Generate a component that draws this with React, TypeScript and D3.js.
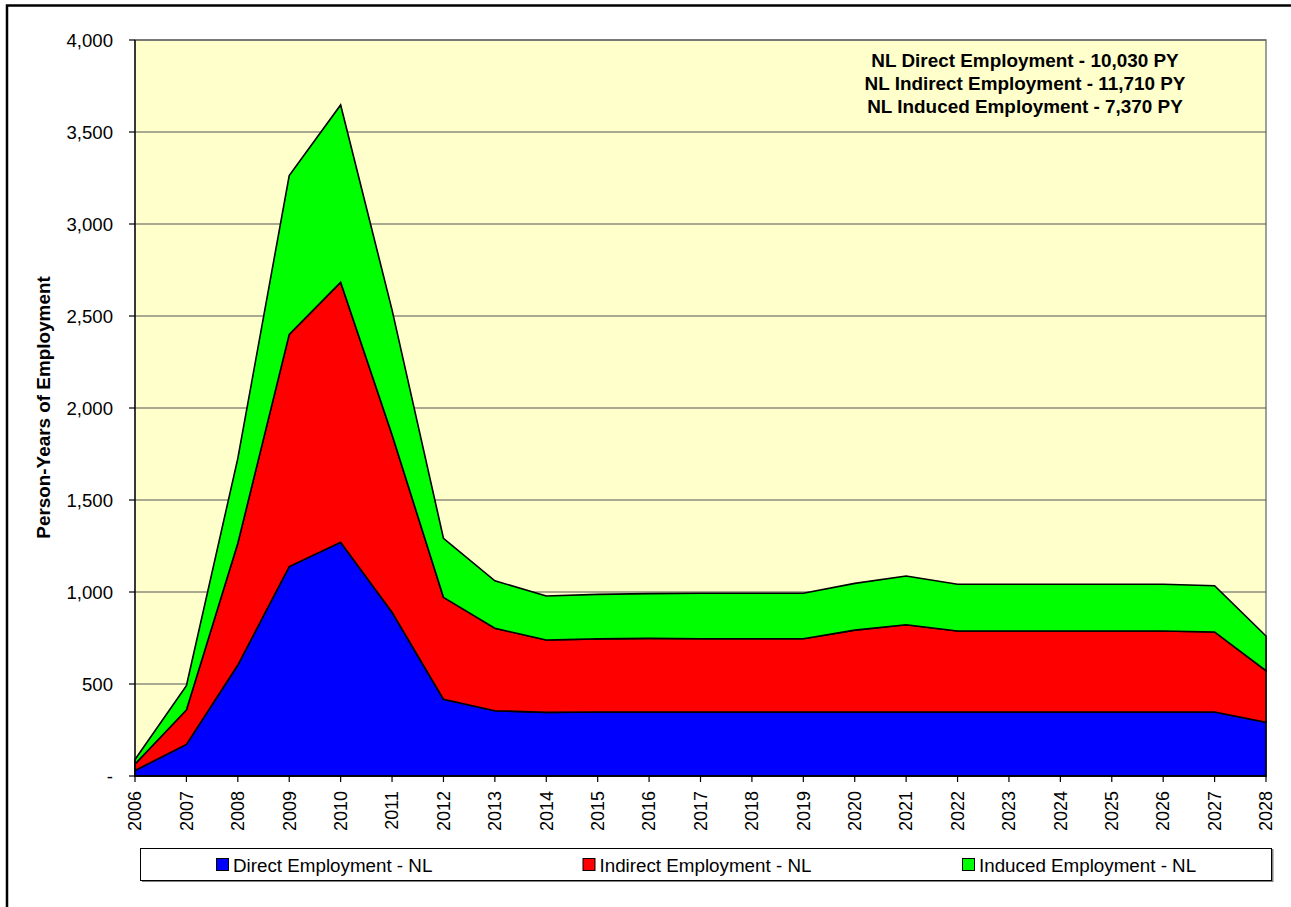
import React from "react";
import * as d3 from "d3";

const years = [
  "2006","2007","2008","2009","2010","2011","2012","2013","2014","2015","2016",
  "2017","2018","2019","2020","2021","2022","2023","2024","2025","2026","2027","2028",
];
const direct = [30,172,603,1138,1270,890,417,355,346,348,348,348,348,348,348,348,348,348,348,348,348,348,292];
const indirect = [35,187,662,1262,1413,965,554,448,393,397,400,398,398,398,445,474,440,440,440,440,440,435,280];
const induced = [25,132,461,863,964,678,321,258,239,242,243,247,247,247,254,265,254,254,254,254,254,251,189];

const seriesKeys = ["direct", "indirect", "induced"];
const seriesLabels = ["Direct Employment - NL", "Indirect Employment - NL", "Induced Employment - NL"];
const seriesColors = ["#0000FF", "#FF0000", "#00FF00"];
const yTicks = [0, 500, 1000, 1500, 2000, 2500, 3000, 3500, 4000];
const notes = [
  "NL Direct Employment - 10,030 PY",
  "NL Indirect Employment - 11,710 PY",
  "NL Induced Employment - 7,370 PY",
];
const yTitle = "Person-Years of Employment";

const W = 1291;
const H = 907;
const L = 135, R = 1266, T = 40, B = 776;
const FONT = "'Liberation Sans', Arial, Helvetica, sans-serif";

export default function App() {
  const rows = years.map((y, i) => ({ year: y, direct: direct[i], indirect: indirect[i], induced: induced[i] }));
  const x = d3.scalePoint<string>().domain(years).range([L, R]);
  const y = d3.scaleLinear().domain([0, 4000]).range([B, T]);
  const stack = d3.stack<any>().keys(seriesKeys);
  const layers = stack(rows);
  const area = d3
    .area<any>()
    .x((d) => x(d.data.year) as number)
    .y0((d) => y(d[0]))
    .y1((d) => y(d[1]));

  const fmt = (v: number) => (v === 0 ? "-" : d3.format(",")(v));
  const legendX = [216.5, 583, 962.5];

  return (
    <svg width={W} height={H} style={{ position: "absolute", left: 0, top: 0, display: "block" }}>
      <rect x={0} y={0} width={W} height={H} fill="#fff" />
      {/* outer chart border */}
      <path d={`M7,${H} V5.5 H${W}`} fill="none" stroke="#000" strokeWidth={2.5} />
      {/* plot area */}
      <rect x={L} y={T} width={R - L} height={B - T} fill="#FFFFCC" stroke="#808080" strokeWidth={1.5} />
      {yTicks.filter((t) => t > 0).map((t) => (
        <line key={t} x1={L} x2={R} y1={y(t)} y2={y(t)} stroke="#555" strokeWidth={1.2} />
      ))}
      {layers.map((layer, i) => (
        <path key={seriesKeys[i]} d={area(layer) as string} fill={seriesColors[i]} stroke="#000" strokeWidth={1.6} strokeLinejoin="miter" />
      ))}
      {/* axes */}
      <line x1={L} x2={L} y1={T} y2={B} stroke="#000" strokeWidth={1.3} />
      <line x1={L} x2={R} y1={B} y2={B} stroke="#000" strokeWidth={1.3} />
      {yTicks.map((t) => (
        <g key={t}>
          <line x1={L - 6} x2={L} y1={y(t)} y2={y(t)} stroke="#000" strokeWidth={1.2} />
          <text x={113} y={y(t)} dy="0.35em" textAnchor="end" fontFamily={FONT} fontSize={18.6} fill="#000">
            {fmt(t)}
          </text>
        </g>
      ))}
      {years.map((yr) => (
        <g key={yr}>
          <line x1={x(yr)} x2={x(yr)} y1={B} y2={B + 6} stroke="#000" strokeWidth={1.2} />
          <text
            transform={`translate(${x(yr)},${791}) rotate(-90)`}
            dy="0.35em"
            textAnchor="end"
            fontFamily={FONT}
            fontSize={18}
            fill="#000"
          >
            {yr}
          </text>
        </g>
      ))}
      <text
        transform={`translate(43,407.5) rotate(-90)`}
        dy="0.35em"
        textAnchor="middle"
        fontFamily={FONT}
        fontWeight="bold"
        fontSize={18.9}
        fill="#000"
      >
        {yTitle}
      </text>
      {notes.map((n, i) => (
        <text key={n} x={1025} y={66.5 + i * 23} textAnchor="middle" fontFamily={FONT} fontWeight="bold" fontSize={18.9} fill="#000">
          {n}
        </text>
      ))}
      {/* legend */}
      <line x1={142} x2={1273} y1={881} y2={881} stroke="#808080" strokeWidth={2} />
      <line x1={1272.5} x2={1272.5} y1={849} y2={882} stroke="#808080" strokeWidth={2} />
      <rect x={140.5} y={848.5} width={1131} height={32} fill="#fff" stroke="#000" strokeWidth={1} />
      {seriesLabels.map((lab, i) => (
        <g key={lab}>
          <rect x={legendX[i]} y={858.5} width={12} height={12} fill={seriesColors[i]} stroke="#000" strokeWidth={1} />
          <text x={legendX[i] + 16.5} y={865} dy="0.35em" fontFamily={FONT} fontSize={18.8} fill="#000">
            {lab}
          </text>
        </g>
      ))}
    </svg>
  );
}
